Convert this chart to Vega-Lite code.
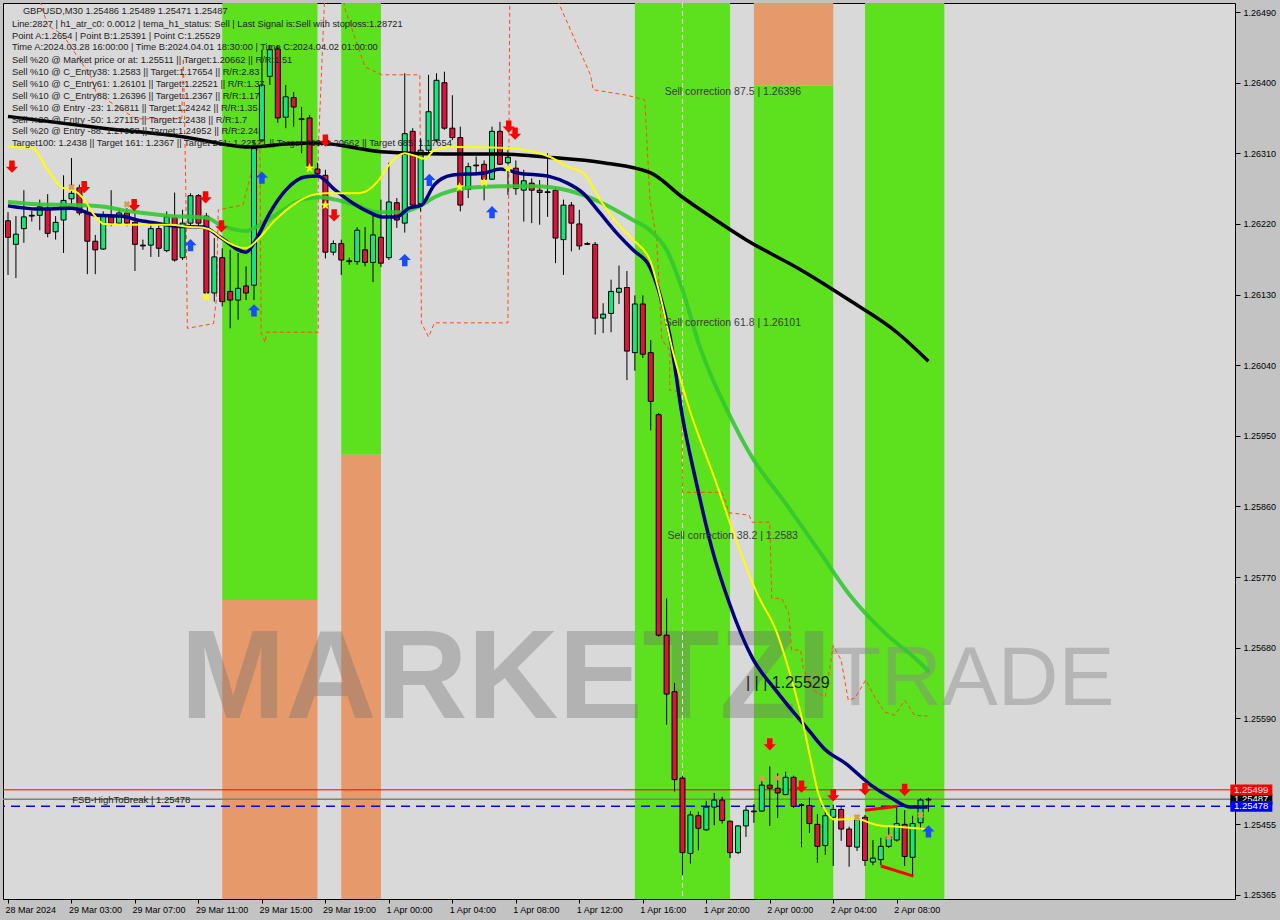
{
"$schema":"https://vega.github.io/schema/vega-lite/v6.json",
"width":1232,"height":896,
"autosize":{"type":"none"},
"padding":{"left":3,"top":3,"right":45,"bottom":21},
"config":{"background":"#c3c3c3","view":{"fill":"#d9d9d9","stroke":"#000000","strokeWidth":1},
"axis":{"domain":false,"grid":false,"tickColor":"#000000","labelColor":"#000000","labelFont":"Liberation Sans","labelFontSize":9,"tickSize":4}},
"datasets":{
"gb":[{"i1":27,"i2":39,"p1":1.25741,"p2":1.2655},{"i1":42,"i2":47,"p1":1.25926,"p2":1.2655},{"i1":79,"i2":91,"p1":1.2535,"p2":1.2655},{"i1":94,"i2":104,"p1":1.2535,"p2":1.26396},{"i1":108,"i2":118,"p1":1.2535,"p2":1.2655}],
"ob":[{"i1":27,"i2":39,"p1":1.2535,"p2":1.25741},{"i1":42,"i2":47,"p1":1.2535,"p2":1.25926},{"i1":94,"i2":104,"p1":1.26396,"p2":1.2655}],
"wm1":[{"i":62.75,"p":1.25639,"t":"MARKETZI"}],
"wm2":[{"i":121.5,"p":1.25639,"t":"TRADE"}],
"timeb":[{"i":85}],
"hl":[{"p":1.25499,"name":"red"},{"p":1.25487,"name":"close"},{"p":1.25478,"name":"fsb"}],
"candles":[
{"i":0,"o":1.26224,"h":1.26235,"l":1.26155,"c":1.26203},{"i":1,"o":1.26194,"h":1.2623,"l":1.26151,"c":1.26207},{"i":2,"o":1.26214,"h":1.26263,"l":1.26196,"c":1.26229},{"i":3,"o":1.26231,"h":1.26237,"l":1.26223,"c":1.2623},{"i":4,"o":1.26231,"h":1.26251,"l":1.26212,"c":1.26242},{"i":5,"o":1.2624,"h":1.26258,"l":1.26203,"c":1.26208},{"i":6,"o":1.2621,"h":1.2623,"l":1.262,"c":1.26222},{"i":7,"o":1.26225,"h":1.26282,"l":1.26183,"c":1.2625},{"i":8,"o":1.26252,"h":1.26304,"l":1.26244,"c":1.26259},{"i":9,"o":1.26266,"h":1.2627,"l":1.26231,"c":1.26234},
{"i":10,"o":1.26234,"h":1.26244,"l":1.26156,"c":1.26198},{"i":11,"o":1.26198,"h":1.26206,"l":1.26156,"c":1.26187},{"i":12,"o":1.26188,"h":1.26236,"l":1.26187,"c":1.2623},{"i":13,"o":1.26229,"h":1.26263,"l":1.26217,"c":1.26221},{"i":14,"o":1.26221,"h":1.2624,"l":1.26219,"c":1.26234},{"i":15,"o":1.26234,"h":1.2624,"l":1.26217,"c":1.26221},{"i":16,"o":1.26222,"h":1.26234,"l":1.2616,"c":1.26194},{"i":17,"o":1.26193,"h":1.262,"l":1.26187,"c":1.26192},{"i":18,"o":1.26193,"h":1.26222,"l":1.26178,"c":1.26214},{"i":19,"o":1.26214,"h":1.26222,"l":1.26178,"c":1.26189},
{"i":20,"o":1.26186,"h":1.26236,"l":1.26184,"c":1.26229},{"i":21,"o":1.26228,"h":1.2626,"l":1.26172,"c":1.26174},{"i":22,"o":1.26177,"h":1.26238,"l":1.26174,"c":1.26221},{"i":23,"o":1.26221,"h":1.26259,"l":1.26217,"c":1.26256},{"i":24,"o":1.26256,"h":1.26258,"l":1.26217,"c":1.26221},{"i":25,"o":1.2623,"h":1.26234,"l":1.26128,"c":1.26132},{"i":26,"o":1.26132,"h":1.26202,"l":1.26121,"c":1.26178},{"i":27,"o":1.26177,"h":1.26189,"l":1.26115,"c":1.26121},{"i":28,"o":1.26134,"h":1.26187,"l":1.26087,"c":1.26123},{"i":29,"o":1.26123,"h":1.26183,"l":1.26098,"c":1.26138},
{"i":30,"o":1.26141,"h":1.26166,"l":1.26123,"c":1.26132},{"i":31,"o":1.26142,"h":1.26327,"l":1.26123,"c":1.26316},{"i":32,"o":1.26327,"h":1.26442,"l":1.26324,"c":1.26397},{"i":33,"o":1.26408,"h":1.26448,"l":1.26397,"c":1.26442},{"i":34,"o":1.26443,"h":1.26448,"l":1.26349,"c":1.26355},{"i":35,"o":1.26356,"h":1.26397,"l":1.26342,"c":1.26382},{"i":36,"o":1.26381,"h":1.26388,"l":1.26344,"c":1.26369},{"i":37,"o":1.26354,"h":1.26369,"l":1.2631,"c":1.26353},{"i":38,"o":1.26355,"h":1.26359,"l":1.26289,"c":1.26291},{"i":39,"o":1.2629,"h":1.26298,"l":1.26281,"c":1.26284},
{"i":40,"o":1.26282,"h":1.26289,"l":1.26176,"c":1.26184},{"i":41,"o":1.26184,"h":1.26199,"l":1.2618,"c":1.26195},{"i":42,"o":1.26195,"h":1.262,"l":1.26155,"c":1.26174},{"i":43,"o":1.26173,"h":1.26177,"l":1.26168,"c":1.26172},{"i":44,"o":1.26172,"h":1.26216,"l":1.26168,"c":1.26212},{"i":45,"o":1.26187,"h":1.26216,"l":1.26166,"c":1.26171},{"i":46,"o":1.26171,"h":1.26234,"l":1.26146,"c":1.26206},{"i":47,"o":1.26203,"h":1.26251,"l":1.26165,"c":1.2617},{"i":48,"o":1.26177,"h":1.26298,"l":1.26174,"c":1.26248},{"i":49,"o":1.26247,"h":1.26253,"l":1.26215,"c":1.26225},
{"i":50,"o":1.26221,"h":1.26412,"l":1.26209,"c":1.26335},{"i":51,"o":1.26338,"h":1.26342,"l":1.26238,"c":1.26244},{"i":52,"o":1.26246,"h":1.26329,"l":1.26236,"c":1.26314},{"i":53,"o":1.26314,"h":1.2641,"l":1.26308,"c":1.26363},{"i":54,"o":1.26327,"h":1.26412,"l":1.26324,"c":1.26403},{"i":55,"o":1.264,"h":1.26414,"l":1.2634,"c":1.26342},{"i":56,"o":1.26342,"h":1.26384,"l":1.26327,"c":1.2633},{"i":57,"o":1.2633,"h":1.26344,"l":1.26236,"c":1.26244},{"i":58,"o":1.26264,"h":1.26298,"l":1.26253,"c":1.26293},{"i":59,"o":1.26295,"h":1.26306,"l":1.26282,"c":1.26294},
{"i":60,"o":1.26296,"h":1.26301,"l":1.2625,"c":1.26277},{"i":61,"o":1.26277,"h":1.26344,"l":1.26276,"c":1.26338},{"i":62,"o":1.26338,"h":1.2635,"l":1.26295,"c":1.26296},{"i":63,"o":1.26298,"h":1.26314,"l":1.26257,"c":1.26305},{"i":64,"o":1.26291,"h":1.26301,"l":1.26257,"c":1.26265},{"i":65,"o":1.26263,"h":1.26289,"l":1.26223,"c":1.26275},{"i":66,"o":1.26272,"h":1.26278,"l":1.26221,"c":1.26263},{"i":67,"o":1.26263,"h":1.26276,"l":1.26219,"c":1.2626},{"i":68,"o":1.26261,"h":1.2631,"l":1.26229,"c":1.2626},{"i":69,"o":1.26263,"h":1.26267,"l":1.2617,"c":1.26202},
{"i":70,"o":1.262,"h":1.26251,"l":1.26155,"c":1.26244},{"i":71,"o":1.26244,"h":1.26248,"l":1.26185,"c":1.26221},{"i":72,"o":1.2622,"h":1.26238,"l":1.26187,"c":1.26192},{"i":73,"o":1.26195,"h":1.26197,"l":1.26193,"c":1.26194},{"i":74,"o":1.26194,"h":1.26197,"l":1.26079,"c":1.261},{"i":75,"o":1.261,"h":1.26119,"l":1.26081,"c":1.26105},{"i":76,"o":1.26106,"h":1.26149,"l":1.26082,"c":1.26134},{"i":77,"o":1.26133,"h":1.26167,"l":1.26118,"c":1.26138},{"i":78,"o":1.26139,"h":1.2616,"l":1.26021,"c":1.26058},{"i":79,"o":1.26056,"h":1.26129,"l":1.26033,"c":1.26118},
{"i":80,"o":1.26118,"h":1.26129,"l":1.26049,"c":1.26054},{"i":81,"o":1.26056,"h":1.26072,"l":1.25957,"c":1.25994},{"i":82,"o":1.25977,"h":1.25979,"l":1.25694,"c":1.25696},{"i":83,"o":1.25696,"h":1.25743,"l":1.25582,"c":1.25621},{"i":84,"o":1.25624,"h":1.25635,"l":1.25497,"c":1.25512},{"i":85,"o":1.25514,"h":1.25517,"l":1.2539,"c":1.25419},{"i":86,"o":1.25418,"h":1.25472,"l":1.25405,"c":1.25467},{"i":87,"o":1.25466,"h":1.25471,"l":1.25422,"c":1.2545},{"i":88,"o":1.25448,"h":1.25485,"l":1.25447,"c":1.25477},{"i":89,"o":1.25477,"h":1.25495,"l":1.25454,"c":1.25486},
{"i":90,"o":1.25486,"h":1.2549,"l":1.25456,"c":1.2546},{"i":91,"o":1.25459,"h":1.2546,"l":1.25412,"c":1.25419},{"i":92,"o":1.25419,"h":1.25454,"l":1.25417,"c":1.25453},{"i":93,"o":1.25453,"h":1.25478,"l":1.25439,"c":1.25473},{"i":94,"o":1.25472,"h":1.25481,"l":1.25457,"c":1.25471},{"i":95,"o":1.25472,"h":1.25512,"l":1.25471,"c":1.25505},{"i":96,"o":1.25505,"h":1.25529,"l":1.25453,"c":1.25501},{"i":97,"o":1.25501,"h":1.2552,"l":1.25463,"c":1.25495},{"i":98,"o":1.25493,"h":1.25522,"l":1.25492,"c":1.25515},{"i":99,"o":1.25515,"h":1.25517,"l":1.25476,"c":1.25478},
{"i":100,"o":1.2548,"h":1.25482,"l":1.25426,"c":1.25479},{"i":101,"o":1.25479,"h":1.25489,"l":1.25444,"c":1.25456},{"i":102,"o":1.25455,"h":1.25468,"l":1.25406,"c":1.25427},{"i":103,"o":1.25428,"h":1.25473,"l":1.25416,"c":1.25466},{"i":104,"o":1.25464,"h":1.2548,"l":1.25402,"c":1.25474},{"i":105,"o":1.25474,"h":1.25478,"l":1.25434,"c":1.25449},{"i":106,"o":1.25449,"h":1.25452,"l":1.25401,"c":1.25427},{"i":107,"o":1.25426,"h":1.25467,"l":1.25421,"c":1.25461},{"i":108,"o":1.25464,"h":1.25467,"l":1.25402,"c":1.25409},{"i":109,"o":1.25407,"h":1.25435,"l":1.25403,"c":1.25412},
{"i":110,"o":1.2541,"h":1.25438,"l":1.25403,"c":1.25427},{"i":111,"o":1.25427,"h":1.25452,"l":1.25425,"c":1.25439},{"i":112,"o":1.25435,"h":1.25477,"l":1.25433,"c":1.25456},{"i":113,"o":1.25455,"h":1.25473,"l":1.25402,"c":1.25414},{"i":114,"o":1.25413,"h":1.25466,"l":1.25388,"c":1.25456},{"i":115,"o":1.25457,"h":1.25488,"l":1.25448,"c":1.25486},{"i":116,"o":1.25486,"h":1.25489,"l":1.25471,"c":1.25487}],
"black":[{"i":0,"p":1.26357},{"i":12,"p":1.26342},{"i":22,"p":1.26331},{"i":30.5,"p":1.26318},{"i":35,"p":1.26322},{"i":39,"p":1.26323},{"i":47,"p":1.26312},{"i":55,"p":1.26309},{"i":62,"p":1.26309},{"i":68,"p":1.26305},{"i":75,"p":1.26298},{"i":81,"p":1.26285},{"i":85,"p":1.26254},{"i":87,"p":1.2624},{"i":93,"p":1.262},{"i":100,"p":1.26161},{"i":106,"p":1.26123},{"i":112,"p":1.26082},{"i":116,"p":1.26045}],
"navy":[{"i":0,"p":1.26243},{"i":3.75,"p":1.26239},{"i":8,"p":1.2624},{"i":11.25,"p":1.26231},{"i":14.25,"p":1.2623},{"i":16.25,"p":1.26225},{"i":18.75,"p":1.26221},{"i":21.25,"p":1.26217},{"i":24.6,"p":1.26216},{"i":26.75,"p":1.26203},{"i":30,"p":1.26184},{"i":31.25,"p":1.262},{"i":33,"p":1.26234},{"i":35,"p":1.26263},{"i":37.5,"p":1.2628},{"i":39,"p":1.26281},{"i":41.25,"p":1.26263},{"i":43.4,"p":1.26247},{"i":45.5,"p":1.26235},{"i":47.1,"p":1.26229},{"i":49,"p":1.26229},{"i":50.5,"p":1.2624},{"i":52.1,"p":1.26244},{"i":53.75,"p":1.2627},{"i":55.9,"p":1.26282},{"i":60,"p":1.26285},{"i":62.1,"p":1.2629},{"i":64.25,"p":1.26285},{"i":68.4,"p":1.2628},{"i":70.5,"p":1.26272},{"i":72.5,"p":1.26259},{"i":74.6,"p":1.26234},{"i":76.75,"p":1.26208},{"i":78.75,"p":1.26187},{"i":80.9,"p":1.26165},{"i":82.1,"p":1.26132},{"i":83.4,"p":1.26078},{"i":85,"p":1.25974},{"i":86.75,"p":1.2589},{"i":88.75,"p":1.25805},{"i":90.9,"p":1.25737},{"i":93.75,"p":1.25668},{"i":96.75,"p":1.25626},{"i":100.9,"p":1.25575},{"i":103,"p":1.2555},{"i":105.5,"p":1.25533},{"i":108.75,"p":1.25505},{"i":111.25,"p":1.25489},{"i":113.75,"p":1.25477},{"i":115.9,"p":1.25477}],
"green":[{"i":0,"p":1.26248},{"i":3.75,"p":1.26245},{"i":8,"p":1.26244},{"i":12.1,"p":1.26242},{"i":14.6,"p":1.26237},{"i":17.1,"p":1.26234},{"i":20.5,"p":1.2623},{"i":23,"p":1.26229},{"i":25,"p":1.26228},{"i":26.75,"p":1.26219},{"i":30,"p":1.26211},{"i":31.75,"p":1.26219},{"i":34.25,"p":1.26235},{"i":37.1,"p":1.26251},{"i":39.25,"p":1.26254},{"i":41.25,"p":1.26251},{"i":43.75,"p":1.26244},{"i":46.75,"p":1.26235},{"i":49.6,"p":1.26235},{"i":51.75,"p":1.26242},{"i":53.75,"p":1.26254},{"i":58,"p":1.26266},{"i":62.1,"p":1.26268},{"i":66.25,"p":1.26268},{"i":70.5,"p":1.26263},{"i":74.6,"p":1.26248},{"i":78.75,"p":1.26225},{"i":80.9,"p":1.26212},{"i":83,"p":1.26187},{"i":85,"p":1.26136},{"i":87.1,"p":1.26066},{"i":90.9,"p":1.25977},{"i":93.75,"p":1.25923},{"i":98,"p":1.25864},{"i":102.1,"p":1.25805},{"i":106.25,"p":1.25745},{"i":110.5,"p":1.25699},{"i":114.6,"p":1.25664},{"i":116.1,"p":1.25649}],
"yellow":[{"i":0,"p":1.26318},{"i":3,"p":1.26317},{"i":5,"p":1.26289},{"i":6.9,"p":1.26266},{"i":8.4,"p":1.26262},{"i":9.6,"p":1.26251},{"i":10.9,"p":1.26231},{"i":12.1,"p":1.2622},{"i":14.6,"p":1.26219},{"i":20.5,"p":1.26219},{"i":23,"p":1.26216},{"i":24.6,"p":1.26215},{"i":25.9,"p":1.2621},{"i":26.75,"p":1.26203},{"i":30,"p":1.26189},{"i":31.75,"p":1.26203},{"i":33.4,"p":1.26222},{"i":35.9,"p":1.26244},{"i":38.4,"p":1.26257},{"i":40,"p":1.26259},{"i":44.25,"p":1.26259},{"i":46.75,"p":1.26276},{"i":48,"p":1.26295},{"i":50,"p":1.2631},{"i":51.25,"p":1.26307},{"i":52.5,"p":1.26303},{"i":53.75,"p":1.26314},{"i":55.9,"p":1.26318},{"i":62.1,"p":1.26317},{"i":66.25,"p":1.26312},{"i":68.4,"p":1.26305},{"i":70.5,"p":1.26293},{"i":72.5,"p":1.26285},{"i":74.6,"p":1.26251},{"i":76.75,"p":1.26221},{"i":78.75,"p":1.262},{"i":80.9,"p":1.26174},{"i":82.1,"p":1.26132},{"i":83.75,"p":1.26059},{"i":85.5,"p":1.25996},{"i":89.25,"p":1.2589},{"i":91.75,"p":1.25817},{"i":94.6,"p":1.25745},{"i":96.75,"p":1.25703},{"i":98.4,"p":1.25652},{"i":100,"p":1.25592},{"i":101.25,"p":1.25533},{"i":102.1,"p":1.25495},{"i":103,"p":1.25473},{"i":104.25,"p":1.25461},{"i":106.75,"p":1.25462},{"i":109.6,"p":1.25454},{"i":112.1,"p":1.25452},{"i":115.9,"p":1.25449}],
"dashed":[{"k":1,"i":3.75,"p":1.26512},{"k":2,"i":5,"p":1.26473},{"k":3,"i":6.9,"p":1.26461},{"k":4,"i":10.5,"p":1.26407},{"k":5,"i":11.1,"p":1.26387},{"k":6,"i":16.1,"p":1.26354},{"k":7,"i":21.9,"p":1.26354},{"k":8,"i":22.1,"p":1.26431},{"k":9,"i":22.4,"p":1.2627},{"k":10,"i":22.6,"p":1.26087},{"k":11,"i":25.9,"p":1.26093},{"k":12,"i":26.25,"p":1.26123},{"k":13,"i":26.5,"p":1.26238},{"k":14,"i":29.6,"p":1.26244},{"k":15,"i":31.75,"p":1.26327},{"k":16,"i":31.9,"p":1.26082},{"k":17,"i":32.4,"p":1.26069},{"k":18,"i":32.6,"p":1.26082},{"k":19,"i":39.1,"p":1.26082},{"k":20,"i":39.1,"p":1.26314},{"k":21,"i":40,"p":1.26531},{"k":22,"i":41.75,"p":1.26531},{"k":23,"i":42.5,"p":1.26493},{"k":24,"i":45,"p":1.2642},{"k":25,"i":47.1,"p":1.2641},{"k":26,"i":51.9,"p":1.2641},{"k":27,"i":52.1,"p":1.26094},{"k":28,"i":53,"p":1.26076},{"k":29,"i":53.75,"p":1.26094},{"k":30,"i":63,"p":1.26094},{"k":31,"i":63.25,"p":1.26531},{"k":32,"i":68.1,"p":1.26531},{"k":33,"i":73.4,"p":1.2641},{"k":34,"i":73.75,"p":1.26391},{"k":35,"i":78,"p":1.26384},{"k":36,"i":80.25,"p":1.26378},{"k":37,"i":80.9,"p":1.26251},{"k":38,"i":81.75,"p":1.262},{"k":39,"i":82.4,"p":1.26072},{"k":40,"i":83.4,"p":1.26059},{"k":41,"i":83.4,"p":1.26008},{"k":42,"i":84.9,"p":1.26006},{"k":43,"i":85,"p":1.25878},{"k":44,"i":90,"p":1.25878},{"k":45,"i":90.9,"p":1.25852},{"k":46,"i":93.4,"p":1.25849},{"k":47,"i":93.75,"p":1.2584},{"k":48,"i":96,"p":1.2584},{"k":49,"i":96.25,"p":1.25743},{"k":50,"i":97.5,"p":1.25743},{"k":51,"i":98.4,"p":1.25724},{"k":52,"i":98.75,"p":1.25677},{"k":53,"i":99.9,"p":1.25677},{"k":54,"i":100.25,"p":1.25652},{"k":55,"i":101.5,"p":1.25626},{"k":56,"i":103,"p":1.25617},{"k":57,"i":104,"p":1.25683},{"k":58,"i":105,"p":1.25664},{"k":59,"i":105.9,"p":1.25613},{"k":60,"i":106.75,"p":1.25616},{"k":61,"i":108.1,"p":1.25639},{"k":62,"i":109.25,"p":1.25617},{"k":63,"i":110.5,"p":1.25598},{"k":64,"i":111.75,"p":1.25594},{"k":65,"i":113,"p":1.25613},{"k":66,"i":114.25,"p":1.25594},{"k":67,"i":115.9,"p":1.25593}],
"redseg":[{"g":"a","i":108,"p":1.25473},{"g":"a","i":112.1,"p":1.25478},{"g":"b","i":110,"p":1.25402},{"g":"b","i":114.1,"p":1.25389}],
"down":[{"i":0.5,"p":1.26293},{"i":9.6,"p":1.26267},{"i":15.9,"p":1.26244},{"i":24.9,"p":1.26254},{"i":26.9,"p":1.26217},{"i":40,"p":1.26326},{"i":41.1,"p":1.26231},{"i":63.1,"p":1.26344},{"i":63.9,"p":1.26335},{"i":96,"p":1.25557},{"i":100,"p":1.25503},{"i":104,"p":1.25492},{"i":108,"p":1.255},{"i":113,"p":1.25499}],
"up":[{"i":23,"p":1.26193},{"i":32,"p":1.26279},{"i":31,"p":1.2611},{"i":50,"p":1.26174},{"i":53.1,"p":1.26276},{"i":61,"p":1.26235},{"i":116,"p":1.25446}],
"stars":[{"i":25,"p":1.26127},{"i":38,"p":1.26291},{"i":40,"p":1.26244},{"i":56.9,"p":1.26267},{"i":60,"p":1.26273},{"i":63,"p":1.2629}],
"crosses":[{"i":8,"p":1.26267},{"i":15,"p":1.26245},{"i":95,"p":1.25513},{"i":97,"p":1.25514},{"i":107,"p":1.25464},{"i":111,"p":1.25439},{"i":115,"p":1.25467}],
"info":[{"i":1.875,"p":1.26491,"t":"GBPUSD,M30  1.25486 1.25489 1.25471 1.25487"},{"i":0.5,"p":1.26475,"t":"Line:2827 | h1_atr_c0: 0.0012 | tema_h1_status: Sell | Last Signal is:Sell with stoploss:1.28721"},{"i":0.5,"p":1.2646,"t":"Point A:1.2654 | Point B:1.25391 | Point C:1.25529"},{"i":0.5,"p":1.26445,"t":"Time A:2024.03.28 16:00:00 | Time B:2024.04.01 18:30:00 | Time C:2024.04.02 01:00:00"},{"i":0.5,"p":1.26429,"t":"Sell %20 @ Market price or at: 1.25511 || Target:1.20662 || R/R:1.51"},{"i":0.5,"p":1.26414,"t":"Sell %10 @ C_Entry38: 1.2583 || Target:1.17654 || R/R:2.83"},{"i":0.5,"p":1.26398,"t":"Sell %10 @ C_Entry61: 1.26101 || Target:1.22521 || R/R:1.37"},{"i":0.5,"p":1.26383,"t":"Sell %10 @ C_Entry88: 1.26396 || Target:1.2367 || R/R:1.17"},{"i":0.5,"p":1.26368,"t":"Sell %10 @ Entry -23: 1.26811 || Target:1.24242 || R/R:1.35"},{"i":0.5,"p":1.26353,"t":"Sell %20 @ Entry -50: 1.27115 || Target:1.2438 || R/R:1.7"},{"i":0.5,"p":1.26338,"t":"Sell %20 @ Entry -88: 1.27958 || Target:1.24952 || R/R:2.24"},{"i":0.5,"p":1.26323,"t":"Target100: 1.2438 || Target 161: 1.2367 || Target 261: 1.22521 || Target 423: 1.20662 || Target 685: 1.17654"}],
"corr":[{"i":82.75,"p":1.26396,"t":"Sell correction 87.5 | 1.26396"},{"i":82.75,"p":1.26101,"t":"Sell correction 61.8 | 1.26101"},{"i":83.1,"p":1.2583,"t":"Sell correction 38.2 | 1.2583"}],
"lvl":[{"i":93,"p":1.25635,"t":"| | | 1.25529"}],
"fsb":[{"i":8.1,"p":1.25478,"t":"FSB-HighToBreak | 1.25478"}],
"tags":[{"p":1.25487,"t":"1.25487","name":"close"},{"p":1.25499,"t":"1.25499","name":"red"},{"p":1.25478,"t":"1.25478","name":"fsb"}]
},
"layer":[
{"data":{"name":"gb"},"mark":{"type":"rect","color":"#5de01d","clip":true},
"encoding":{"x":{"field":"i1","type":"quantitative","title":null,"scale":{"domain":[0,154],"nice":false,"zero":false},
"axis":{"orient":"bottom","values":[0,8,16,24,32,40,48,56,64,72,80,88,96,104,112],"labelExpr":"['28 Mar 2024','29 Mar 03:00','29 Mar 07:00','29 Mar 11:00','29 Mar 15:00','29 Mar 19:00','1 Apr 00:00','1 Apr 04:00','1 Apr 08:00','1 Apr 12:00','1 Apr 16:00','1 Apr 20:00','2 Apr 00:00','2 Apr 04:00','2 Apr 08:00'][round(datum.value/8)]","labelAlign":"left","labelPadding":2,"labelOffset":-3,"tickSize":4,"labelOverlap":false,"labelBound":false,"labelFlush":false}},
"x2":{"field":"i2"},
"y":{"field":"p1","type":"quantitative","title":null,"scale":{"domain":[1.253599,1.265015],"nice":false,"zero":false},
"axis":{"orient":"right","values":[1.25365,1.2541,1.25455,1.25545,1.2559,1.25635,1.2568,1.25725,1.2577,1.25815,1.2586,1.25905,1.2595,1.25995,1.2604,1.26085,1.2613,1.26175,1.2622,1.26265,1.2631,1.26355,1.264,1.26445,1.2649],"format":".5f","labelPadding":3,"tickSize":5,"labelOverlap":false,"labelBound":false,"labelFlush":false}},
"y2":{"field":"p2"}}},
{"data":{"name":"ob"},"mark":{"type":"rect","color":"#e6996b","clip":true},
"encoding":{"x":{"field":"i1","type":"quantitative","title":null},"x2":{"field":"i2"},"y":{"field":"p1","type":"quantitative","title":null},"y2":{"field":"p2"}}},
{"data":{"name":"wm1"},"mark":{"type":"text","font":"Liberation Sans","fontWeight":"bold","fontSize":126,"color":"#707070","opacity":0.36,"align":"center","baseline":"middle"},
"encoding":{"x":{"field":"i","type":"quantitative","title":null},"y":{"field":"p","type":"quantitative","title":null},"text":{"field":"t"}}},
{"data":{"name":"wm2"},"mark":{"type":"text","font":"Liberation Sans","fontWeight":"normal","fontSize":84,"color":"#8a8a8a","opacity":0.45,"align":"center","baseline":"middle"},
"encoding":{"x":{"field":"i","type":"quantitative","title":null},"y":{"field":"p","type":"quantitative","title":null},"text":{"field":"t"}}},
{"data":{"name":"timeb"},"mark":{"type":"rule","color":"#ffffff","strokeDash":[5,3],"strokeWidth":1,"opacity":0.85},
"encoding":{"x":{"field":"i","type":"quantitative","title":null}}},
{"data":{"name":"hl"},"transform":[{"filter":"datum.name == 'close'"}],"mark":{"type":"rule","color":"#7f7f7f","strokeWidth":1.5},
"encoding":{"y":{"field":"p","type":"quantitative","title":null}}},
{"data":{"name":"hl"},"transform":[{"filter":"datum.name == 'red'"}],"mark":{"type":"rule","color":"#ff0000","strokeWidth":1},
"encoding":{"y":{"field":"p","type":"quantitative","title":null}}},
{"data":{"name":"hl"},"transform":[{"filter":"datum.name == 'fsb'"}],"mark":{"type":"rule","color":"#0000ff","strokeWidth":1.5,"strokeDash":[9,6]},
"encoding":{"y":{"field":"p","type":"quantitative","title":null}}},
{"data":{"name":"dashed"},"mark":{"type":"line","color":"#ff4a12","strokeWidth":1,"strokeDash":[4,3],"clip":true},
"encoding":{"x":{"field":"i","type":"quantitative","title":null},"y":{"field":"p","type":"quantitative","title":null},"order":{"field":"k"}}},
{"data":{"name":"candles"},"mark":{"type":"rule","color":"#000000","strokeWidth":1,"clip":true},
"encoding":{"x":{"field":"i","type":"quantitative","title":null},"y":{"field":"l","type":"quantitative","title":null},"y2":{"field":"h"}}},
{"data":{"name":"candles"},"mark":{"type":"bar","width":5,"stroke":"#000000","strokeWidth":1,"clip":true},
"encoding":{"x":{"field":"i","type":"quantitative","title":null},"y":{"field":"o","type":"quantitative","title":null},"y2":{"field":"c"},
"fill":{"condition":{"test":"datum.c >= datum.o","value":"#17e57b"},"value":"#dc143c"}}},
{"data":{"name":"black"},"mark":{"type":"line","color":"#000000","strokeWidth":3.5,"interpolate":"monotone","clip":true},
"encoding":{"x":{"field":"i","type":"quantitative","title":null},"y":{"field":"p","type":"quantitative","title":null}}},
{"data":{"name":"green"},"mark":{"type":"line","color":"#32c832","strokeWidth":4,"opacity":0.9,"interpolate":"monotone","clip":true},
"encoding":{"x":{"field":"i","type":"quantitative","title":null},"y":{"field":"p","type":"quantitative","title":null}}},
{"data":{"name":"navy"},"mark":{"type":"line","color":"#000080","strokeWidth":3.5,"interpolate":"monotone","clip":true},
"encoding":{"x":{"field":"i","type":"quantitative","title":null},"y":{"field":"p","type":"quantitative","title":null}}},
{"data":{"name":"yellow"},"mark":{"type":"line","color":"#ffff00","strokeWidth":2,"interpolate":"monotone","clip":true},
"encoding":{"x":{"field":"i","type":"quantitative","title":null},"y":{"field":"p","type":"quantitative","title":null}}},
{"data":{"name":"redseg"},"mark":{"type":"line","color":"#ff0000","strokeWidth":3},
"encoding":{"x":{"field":"i","type":"quantitative","title":null},"y":{"field":"p","type":"quantitative","title":null},"detail":{"field":"g"}}},
{"data":{"name":"down"},"mark":{"type":"point","shape":"M-0.45,-1L0.45,-1L0.45,0L1,0L0,1L-1,0L-0.45,0Z","filled":true,"size":150,"color":"#ff0000","opacity":1,"strokeWidth":0},
"encoding":{"x":{"field":"i","type":"quantitative","title":null},"y":{"field":"p","type":"quantitative","title":null}}},
{"data":{"name":"up"},"mark":{"type":"point","shape":"M-0.45,1L0.45,1L0.45,0L1,0L0,-1L-1,0L-0.45,0Z","filled":true,"size":150,"color":"#1a4cff","opacity":1,"strokeWidth":0},
"encoding":{"x":{"field":"i","type":"quantitative","title":null},"y":{"field":"p","type":"quantitative","title":null}}},
{"data":{"name":"stars"},"mark":{"type":"point","shape":"M0,-1L0.235,-0.324L0.951,-0.309L0.38,0.124L0.588,0.809L0,0.4L-0.588,0.809L-0.38,0.124L-0.951,-0.309L-0.235,-0.324Z","filled":true,"size":110,"color":"#ffff00","opacity":1,"strokeWidth":0},
"encoding":{"x":{"field":"i","type":"quantitative","title":null},"y":{"field":"p","type":"quantitative","title":null}}},
{"data":{"name":"crosses"},"mark":{"type":"point","shape":"cross","angle":45,"filled":true,"size":45,"color":"#d89a5a","opacity":1,"strokeWidth":0},
"encoding":{"x":{"field":"i","type":"quantitative","title":null},"y":{"field":"p","type":"quantitative","title":null}}},
{"data":{"name":"info"},"mark":{"type":"text","align":"left","baseline":"middle","font":"Liberation Sans","fontSize":9.3,"color":"#222222"},
"encoding":{"x":{"field":"i","type":"quantitative","title":null},"y":{"field":"p","type":"quantitative","title":null},"text":{"field":"t"}}},
{"data":{"name":"corr"},"mark":{"type":"text","align":"left","baseline":"top","font":"Liberation Sans","fontSize":10.5,"color":"#3c3c3c","dy":1},
"encoding":{"x":{"field":"i","type":"quantitative","title":null},"y":{"field":"p","type":"quantitative","title":null},"text":{"field":"t"}}},
{"data":{"name":"lvl"},"mark":{"type":"text","align":"left","baseline":"middle","font":"Liberation Sans","fontSize":16,"color":"#1a1a1a"},
"encoding":{"x":{"field":"i","type":"quantitative","title":null},"y":{"field":"p","type":"quantitative","title":null},"text":{"field":"t"}}},
{"data":{"name":"fsb"},"mark":{"type":"text","align":"left","baseline":"bottom","font":"Liberation Sans","fontSize":9.5,"color":"#1a1a1a","dy":-1},
"encoding":{"x":{"field":"i","type":"quantitative","title":null},"y":{"field":"p","type":"quantitative","title":null},"text":{"field":"t"}}},
{"data":{"name":"tags"},"transform":[{"filter":"datum.name == 'close'"}],"mark":{"type":"point","shape":"M-3.5,-0.9L3.5,-0.9L3.5,0.9L-3.5,0.9Z","filled":true,"size":144,"color":"#000000","opacity":1,"strokeWidth":0},
"encoding":{"x":{"datum":156.69,"type":"quantitative"},"y":{"field":"p","type":"quantitative","title":null}}},
{"data":{"name":"tags"},"transform":[{"filter":"datum.name == 'close'"}],"mark":{"type":"text","align":"left","baseline":"middle","font":"Liberation Sans","fontSize":9.5,"color":"#ffffff"},
"encoding":{"x":{"datum":154.5,"type":"quantitative"},"y":{"field":"p","type":"quantitative","title":null},"text":{"field":"t"}}},
{"data":{"name":"tags"},"transform":[{"filter":"datum.name == 'red'"}],"mark":{"type":"point","shape":"M-3.5,-0.9L3.5,-0.9L3.5,0.9L-3.5,0.9Z","filled":true,"size":144,"color":"#ff0000","opacity":1,"strokeWidth":0},
"encoding":{"x":{"datum":156.69,"type":"quantitative"},"y":{"field":"p","type":"quantitative","title":null}}},
{"data":{"name":"tags"},"transform":[{"filter":"datum.name == 'red'"}],"mark":{"type":"text","align":"left","baseline":"middle","font":"Liberation Sans","fontSize":9.5,"color":"#ffe8e8"},
"encoding":{"x":{"datum":154.5,"type":"quantitative"},"y":{"field":"p","type":"quantitative","title":null},"text":{"field":"t"}}},
{"data":{"name":"tags"},"transform":[{"filter":"datum.name == 'fsb'"}],"mark":{"type":"point","shape":"M-3.5,-0.9L3.5,-0.9L3.5,0.9L-3.5,0.9Z","filled":true,"size":144,"color":"#0000ff","opacity":1,"strokeWidth":0},
"encoding":{"x":{"datum":156.69,"type":"quantitative"},"y":{"field":"p","type":"quantitative","title":null}}},
{"data":{"name":"tags"},"transform":[{"filter":"datum.name == 'fsb'"}],"mark":{"type":"text","align":"left","baseline":"middle","font":"Liberation Sans","fontSize":9.5,"color":"#ffffff"},
"encoding":{"x":{"datum":154.5,"type":"quantitative"},"y":{"field":"p","type":"quantitative","title":null},"text":{"field":"t"}}}
]
}
